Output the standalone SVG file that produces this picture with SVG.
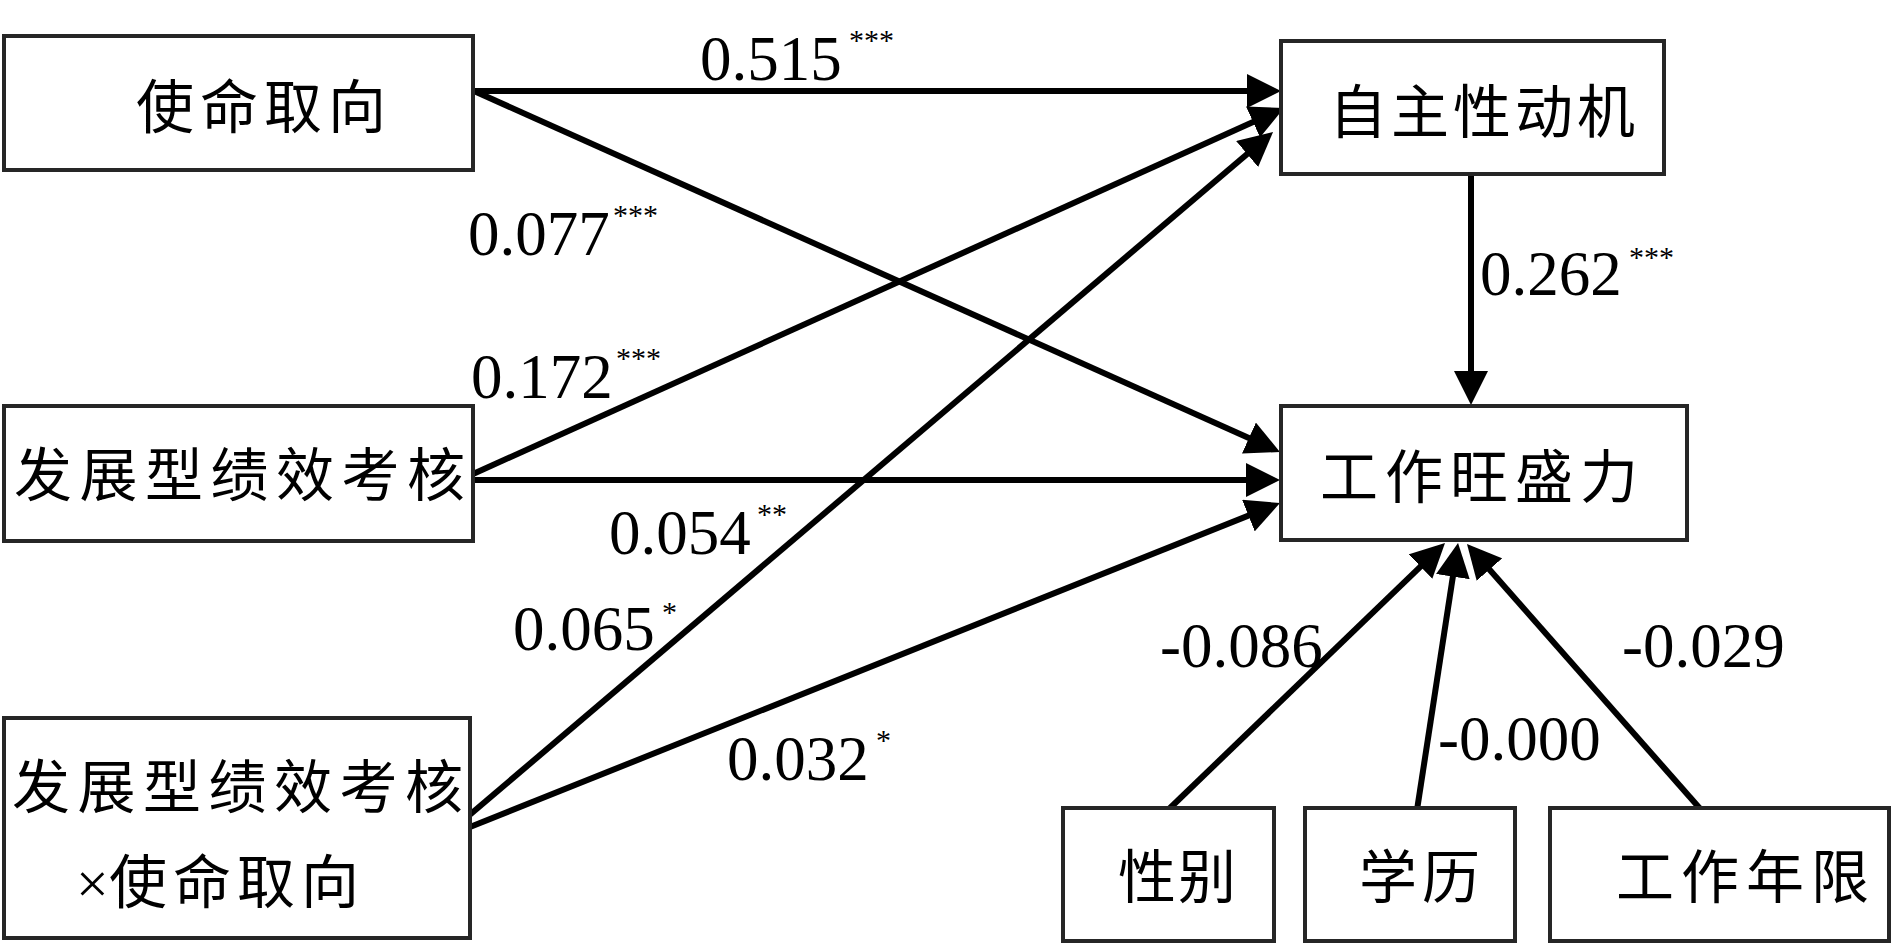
<svg xmlns="http://www.w3.org/2000/svg" width="1892" height="944" viewBox="0 0 1892 944">
<style>
.box{fill:#fff;stroke:#262626;stroke-width:4}
.cn{font-family:"Noto Sans CJK SC","Noto Sans CJK JP",sans-serif;font-size:58px;fill:#000}
.num{font-family:"Liberation Serif",serif;font-size:63px;fill:#000}
.sup{font-family:"Liberation Serif",serif;font-size:30px;fill:#000}
.ln{fill:none;stroke:#000;stroke-width:6;marker-end:url(#ah)}
</style>
<defs>
<marker id="ah" markerUnits="userSpaceOnUse" markerWidth="34" markerHeight="34" viewBox="0 0 34 34" refX="14" refY="17" orient="auto">
<path d="M0,0 L34,17 L0,34 z" fill="#000"/>
</marker>
</defs>
<rect width="1892" height="944" fill="#fff"/>
<g id="connectors">
<line class="ln" x1="474" y1="91" x2="1261" y2="91"/>
<line class="ln" x1="474" y1="91" x2="1261.7" y2="443.8"/>
<line class="ln" x1="473" y1="474" x2="1265.8" y2="116.2"/>
<line class="ln" x1="473" y1="480" x2="1260" y2="480"/>
<line class="ln" x1="466" y1="818" x2="1257.8" y2="145"/>
<line class="ln" x1="470" y1="827" x2="1261.4" y2="510.4"/>
<line class="ln" x1="1471" y1="175" x2="1471" y2="385"/>
<line class="ln" x1="1169" y1="809" x2="1430.6" y2="556.9"/>
<line class="ln" x1="1417" y1="810" x2="1455" y2="562.8"/>
<line class="ln" x1="1703" y1="812" x2="1480.2" y2="559"/>
</g>
<g id="labels">
<text class="num" x="700" y="80">0.515</text><text class="sup" x="849" y="50">***</text>
<text class="num" x="468" y="255">0.077</text><text class="sup" x="613" y="225">***</text>
<text class="num" x="471" y="398">0.172</text><text class="sup" x="616" y="368">***</text>
<text class="num" x="1480" y="295">0.262</text><text class="sup" x="1629" y="267">***</text>
<text class="num" x="609" y="554">0.054</text><text class="sup" x="757" y="524">**</text>
<text class="num" x="513" y="650">0.065</text><text class="sup" x="662" y="622">*</text>
<text class="num" x="727" y="780">0.032</text><text class="sup" x="876" y="750">*</text>
<text class="num" x="1160" y="667">-0.086</text>
<text class="num" x="1622" y="667">-0.029</text>
<text class="num" x="1438" y="760">-0.000</text>
</g>
<g id="n-mission">
<rect class="box" x="4" y="36" width="469" height="134"/>
<text class="cn" x="136" y="128" letter-spacing="6">使命取向</text>
</g>
<g id="n-dpa">
<rect class="box" x="4" y="406" width="469" height="135"/>
<text class="cn" x="14" y="496" letter-spacing="7.5">发展型绩效考核</text>
</g>
<g id="n-interaction">
<rect class="box" x="4" y="718" width="466" height="220"/>
<text class="cn" x="12" y="808" letter-spacing="7.5">发展型绩效考核</text>
<text class="cn" y="903"><tspan x="76" font-family="Liberation Serif, serif">×</tspan><tspan x="109" letter-spacing="6">使命取向</tspan></text>
</g>
<g id="n-autonomy">
<rect class="box" x="1281" y="41" width="383" height="133"/>
<text class="cn" x="1329" y="133" letter-spacing="4">自主性动机</text>
</g>
<g id="n-thriving">
<rect class="box" x="1281" y="406" width="406" height="134"/>
<text class="cn" x="1320" y="498" letter-spacing="7">工作旺盛力</text>
</g>
<g id="n-gender">
<rect class="box" x="1063" y="808" width="211" height="133"/>
<text class="cn" x="1118" y="898" letter-spacing="2">性别</text>
</g>
<g id="n-education">
<rect class="box" x="1305" y="808" width="210" height="133"/>
<text class="cn" x="1359" y="898" letter-spacing="5">学历</text>
</g>
<g id="n-tenure">
<rect class="box" x="1550" y="808" width="339" height="133"/>
<text class="cn" x="1616" y="898" letter-spacing="7">工作年限</text>
</g>
</svg>
